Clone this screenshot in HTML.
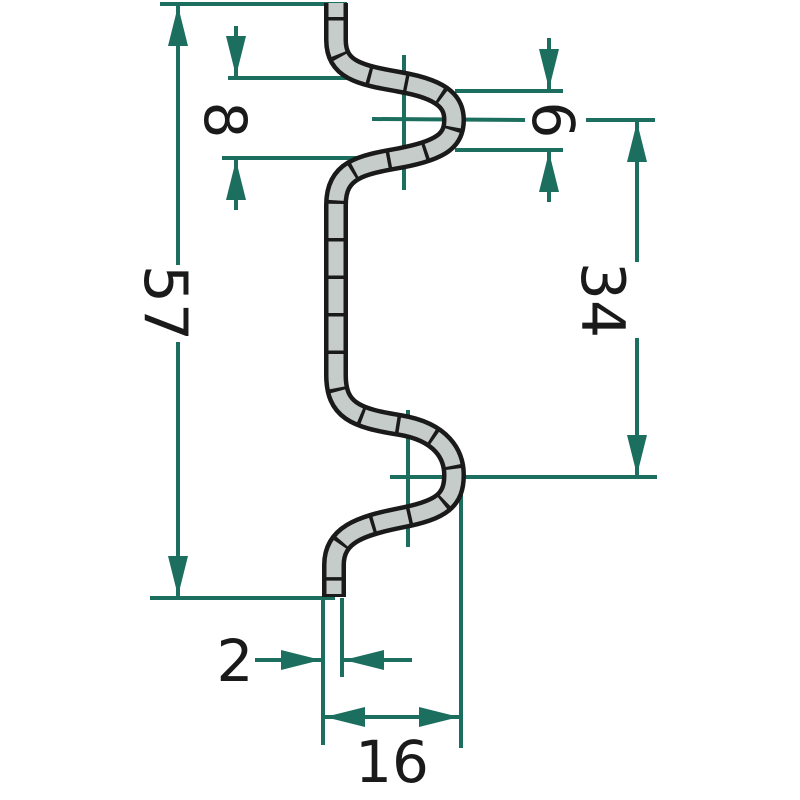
<!DOCTYPE html>
<html><head><meta charset="utf-8"><style>
html,body{margin:0;padding:0;background:#fff;}
svg{display:block;}
text{font-family:"DejaVu Sans","Liberation Sans",sans-serif;fill:#1a1a1a;}
</style></head><body>
<svg width="800" height="800" viewBox="0 0 800 800" xmlns="http://www.w3.org/2000/svg">
<defs>
<marker id="a" viewBox="0 0 40 20" refX="40" refY="10" markerWidth="40" markerHeight="20" markerUnits="userSpaceOnUse" orient="auto">
<path d="M0,0 L40,10 L0,20 Z" fill="#1c6e5f"/></marker>
</defs>
<g stroke="#1c6e5f" stroke-width="4" fill="none">
<line x1="160" y1="4" x2="347" y2="4"/>
<line x1="150" y1="598" x2="335" y2="598"/>
<line x1="178" y1="265" x2="178" y2="6" marker-end="url(#a)"/>
<line x1="178" y1="342" x2="178" y2="596" marker-end="url(#a)"/>
<line x1="228" y1="78" x2="362" y2="78"/>
<line x1="222" y1="158" x2="365" y2="158"/>
<line x1="236" y1="26" x2="236" y2="76" marker-end="url(#a)"/>
<line x1="236" y1="210" x2="236" y2="160" marker-end="url(#a)"/>
<line x1="455" y1="91" x2="563" y2="91"/>
<line x1="455" y1="150" x2="563" y2="150"/>
<line x1="549" y1="38" x2="549" y2="89" marker-end="url(#a)"/>
<line x1="549" y1="202" x2="549" y2="152" marker-end="url(#a)"/>
<line x1="372" y1="119" x2="525" y2="120"/>
<line x1="404" y1="55" x2="404" y2="190"/>
<line x1="586" y1="120" x2="655" y2="120"/>
<line x1="460" y1="477" x2="657" y2="477"/>
<line x1="637" y1="262" x2="637" y2="122" marker-end="url(#a)"/>
<line x1="637" y1="338" x2="637" y2="475" marker-end="url(#a)"/>
<line x1="390" y1="477" x2="460" y2="477"/>
<line x1="408" y1="410" x2="408" y2="547"/>
<line x1="323" y1="598" x2="323" y2="745"/>
<line x1="342" y1="598" x2="342" y2="677"/>
<line x1="461" y1="477" x2="461" y2="748"/>
<line x1="255" y1="660" x2="321" y2="660" marker-end="url(#a)"/>
<line x1="412" y1="660" x2="344" y2="660" marker-end="url(#a)"/>
<line x1="392" y1="717" x2="325" y2="717" marker-end="url(#a)"/>
<line x1="392" y1="717" x2="459" y2="717" marker-end="url(#a)"/>
</g>
<g fill="none">
<path d="M336,3 L336,40 C336,70 360,75 400,82 C447,90 454,105 454,120 C454,140 442,150 400,158 C360,165 336,170 336,205 L336,375 C336,410 355,418 400,425 C442,432 454,455 454,475 C454,500 442,510 400,518 C360,526 334,535 334,565 L334,597" stroke="#1a1a1a" stroke-width="24"/>
<path d="M336,3 L336,40 C336,70 360,75 400,82 C447,90 454,105 454,120 C454,140 442,150 400,158 C360,165 336,170 336,205 L336,375 C336,410 355,418 400,425 C442,432 454,455 454,475 C454,500 442,510 400,518 C360,526 334,535 334,565 L334,594" stroke="#c5ccc9" stroke-width="15"/>
<path d="M336,3 L336,40 C336,70 360,75 400,82 C447,90 454,105 454,120 C454,140 442,150 400,158 C360,165 336,170 336,205 L336,375 C336,410 355,418 400,425 C442,432 454,455 454,475 C454,500 442,510 400,518 C360,526 334,535 334,565 L334,594" stroke="#1a1a1a" stroke-width="16" stroke-dasharray="3.5 34" stroke-dashoffset="-14"/>
</g>
<text font-size="60" text-anchor="middle" transform="translate(145,303) rotate(90)">57</text>
<text font-size="58" text-anchor="middle" transform="translate(205,120) rotate(90)">8</text>
<text font-size="58" text-anchor="middle" transform="translate(533,120) rotate(90)">6</text>
<text font-size="60" text-anchor="middle" transform="translate(582,300) rotate(90)">34</text>
<text x="235" y="681" font-size="58" text-anchor="middle">2</text>
<text x="392" y="782" font-size="58" text-anchor="middle">16</text>
</svg>
</body></html>
